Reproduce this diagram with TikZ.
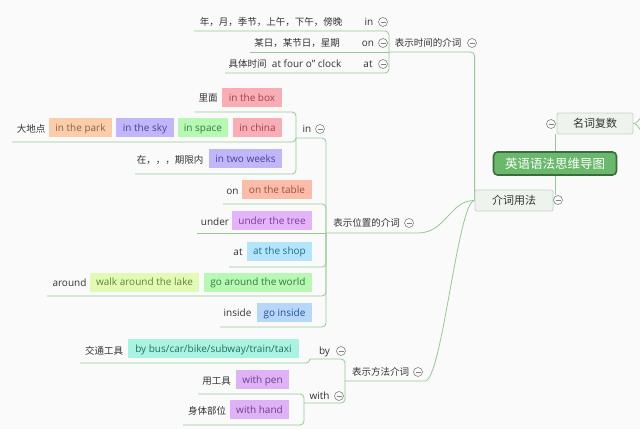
\documentclass[tikz,border=0pt]{standalone}
\usepackage{fontspec}
\setmainfont{Open Sans}
\newfontfamily\cjk{Noto Sans CJK SC}
\usetikzlibrary{backgrounds}
\definecolor{bg}{RGB}{250,250,250}
\definecolor{lineg}{RGB}{150,200,150}
\definecolor{foldc}{RGB}{130,130,130}
\definecolor{txt}{RGB}{51,51,51}
\definecolor{topf}{RGB}{238,244,237}
\definecolor{topb}{RGB}{196,212,196}
\definecolor{cenf}{RGB}{106,184,108}
\definecolor{cenb}{RGB}{58,108,60}
\definecolor{cpink}{RGB}{249,174,182}
\definecolor{tpink}{RGB}{160,65,80}
\definecolor{cpeach}{RGB}{252,205,170}
\definecolor{tpeach}{RGB}{135,100,70}
\definecolor{clav}{RGB}{192,182,250}
\definecolor{tlav}{RGB}{75,65,155}
\definecolor{cgreen}{RGB}{182,248,180}
\definecolor{tgreen}{RGB}{50,125,60}
\definecolor{csalmon}{RGB}{251,188,170}
\definecolor{tsalmon}{RGB}{155,80,60}
\definecolor{cviolet}{RGB}{229,180,248}
\definecolor{tviolet}{RGB}{125,60,155}
\definecolor{csky}{RGB}{180,230,251}
\definecolor{tsky}{RGB}{40,105,145}
\definecolor{clime}{RGB}{227,250,182}
\definecolor{tlime}{RGB}{95,135,50}
\definecolor{cblue}{RGB}{182,215,250}
\definecolor{tblue}{RGB}{40,80,145}
\definecolor{caqua}{RGB}{170,243,224}
\definecolor{taqua}{RGB}{30,115,95}
\definecolor{cwith}{RGB}{222,178,245}
\definecolor{twith}{RGB}{115,60,145}
\newcommand\ulink[2]{\draw[elbow] (#1) -- (#1 -| #2) -- (#2);}
\begin{document}
\begin{tikzpicture}[x=1pt,y=-1pt,
 conn/.style={draw=lineg,line width=0.8pt},
 elbow/.style={conn,rounded corners=4pt},
 lbl/.style={inner sep=0pt,text=txt,text height=7.5pt,text depth=0.5pt,font=\fontsize{10}{12}\selectfont},
 zh/.style={inner sep=0pt,text=txt,font=\cjk\fontsize{9.5}{11}\selectfont},
 chip/.style 2 args={fill=#1,inner sep=0pt,minimum height=19pt,text height=7.5pt,text depth=0.5pt,text=#2,font=\fontsize{10}{12}\selectfont},
 fold/.style={circle,draw=foldc,fill=bg,line width=0.6pt,minimum size=9pt,inner sep=0pt,
   path picture={\draw[foldc,line width=0.6pt] ([xshift=2pt]path picture bounding box.west) -- ([xshift=-2pt]path picture bounding box.east);}},
 topic/.style={draw=topb,fill=topf,rounded corners=2pt,line width=0.8pt,inner sep=0pt,minimum height=21pt,text=txt,font=\cjk\fontsize{11}{13}\selectfont},
]
\useasboundingbox (0,0) rectangle (640,429);

% ---------- coordinates of underline ends ----------
\coordinate (tP) at (389,52);  \coordinate (tR) at (474,52);
\coordinate (t1L) at (194,31); \coordinate (t2L) at (250,52); \coordinate (t3L) at (225,73);
\coordinate (pP) at (326,233); \coordinate (pR) at (418,233);
\coordinate (inP) at (296,138);
\coordinate (in1L) at (195,112); \coordinate (in2L) at (12,142); \coordinate (in3L) at (135,174);
\coordinate (onL) at (223,204); \coordinate (underL) at (197,233); \coordinate (atL) at (229,267);
\coordinate (aroundL) at (47,296); \coordinate (insideL) at (220,327);
\coordinate (mP) at (345,381); \coordinate (mR) at (425,381);
\coordinate (byL) at (310,359); \coordinate (by1L) at (80,363);
\coordinate (withL) at (304,403); \coordinate (w1L) at (198,394); \coordinate (w2L) at (183,425);

% ---------- main topics ----------
\node[topic,minimum width=76pt] (mingci) at (595,123.5) {名词复数};
\node[topic,minimum width=78pt] (jieci) at (514,200.5) {介词用法};
\node[fold] (mfold) at (551,124) {};
\node[fold] (jfold) at (558,200) {};
\node[draw=cenb,fill=cenf,line width=1.6pt,rounded corners=4pt,minimum width=123pt,minimum height=23pt,inner sep=0pt,text=white,font=\cjk\fontsize{12.5}{14}\selectfont] (root) at (555,163.5) {英语语法思维导图};

% ---------- time branch ----------
\node[zh] (time) at (428,43) {表示时间的介词};
\node[fold] (timef) at (472,43) {};
\node[zh] (t1) at (271,22) {年，月，季节，上午，下午，傍晚};
\node[lbl] (tin) at (369,22) {in};
\node[fold] (tinf) at (383,22) {};
\node[zh] (t2) at (297,43) {某日，某节日，星期};
\node[lbl] (ton) at (368,43) {on};
\node[fold] (tonf) at (383,43) {};
\node[lbl] (t3) at (285,64) {{\cjk\fontsize{9.5}{11}\selectfont 具体时间}~ at four o” clock};
\node[lbl] (tat) at (368,64) {at};
\node[fold] (tatf) at (383,64) {};

% ---------- place branch ----------
\node[zh] (place) at (366.5,223) {表示位置的介词};
\node[fold] (placef) at (409,223) {};
\node[lbl] (pin) at (307,129) {in};
\node[fold] (pinf) at (320,129) {};
\node[zh] (limian) at (208,98) {里面};
\node[chip={cpink}{tpink},minimum width=60pt] (box) at (252,97.5) {in the box};
\node[zh] (dadi) at (31,129) {大地点};
\node[chip={cpeach}{tpeach},minimum width=63pt] (park) at (80.5,127.5) {in the park};
\node[chip={clav}{tlav},minimum width=58pt] (sky) at (145,127.5) {in the sky};
\node[chip={cgreen}{tgreen},minimum width=50pt] (space) at (203,127.5) {in space};
\node[chip={cpink}{tpink},minimum width=49pt] (china) at (257.5,127.5) {in china};
\node[zh] (qixian) at (170,160) {在，，，期限内};
\node[chip={clav}{tlav},minimum width=73pt] (weeks) at (245.5,158.5) {in two weeks};
\node[lbl] (pon) at (232.5,191) {on};
\node[chip={csalmon}{tsalmon},minimum width=70pt] (table) at (277,189.5) {on the table};
\node[lbl] (punder) at (215,222) {under};
\node[chip={cviolet}{tviolet},minimum width=80pt] (tree) at (272,220.5) {under the tree};
\node[lbl] (pat) at (238,252) {at};
\node[chip={csky}{tsky},minimum width=65pt] (shop) at (279.5,251) {at the shop};
\node[lbl] (paround) at (69.5,283) {around};
\node[chip={clime}{tlime},minimum width=109pt] (lake) at (144.5,282) {walk around the lake};
\node[chip={cgreen}{tgreen},minimum width=108pt] (world) at (258,282) {go around the world};
\node[lbl] (pinside) at (237.5,313) {inside};
\node[chip={cblue}{tblue},minimum width=55pt] (goin) at (284.5,312.5) {go inside};

% ---------- method branch ----------
\node[zh] (method) at (380.5,372) {表示方法介词};
\node[fold] (methodf) at (418,372) {};
\node[lbl] (mby) at (324.5,351) {by};
\node[fold] (mbyf) at (341,351) {};
\node[zh] (jiaotong) at (104,351) {交通工具};
\node[chip={caqua}{taqua},minimum width=171pt] (bus) at (213.5,348.5) {by bus/car/bike/subway/train/taxi};
\node[lbl] (mwith) at (319.5,396) {with};
\node[fold] (mwithf) at (339,396) {};
\node[zh] (gongju) at (216.5,381) {用工具};
\node[chip={cwith}{twith},minimum width=53pt] (pen) at (262.5,379.5) {with pen};
\node[zh] (shenti) at (207,411) {身体部位};
\node[chip={cwith}{twith},minimum width=59pt] (hand) at (259.5,409.5) {with hand};

% ---------- connectors (behind the nodes) ----------
\begin{scope}[on background layer]
\fill[bg] (0,0) rectangle (640,429);
\draw[conn] ([xshift=-1pt]mingci.south west) -- ([xshift=-1pt]mingci.south west |- jfold.north);
\draw[conn] (mingci.east) to[out=0,in=210] (642,117);
\draw[conn] (mingci.east) to[out=0,in=150] (642,131);
\draw[elbow] (jieci.west) -- (jieci.west |- tR) -- (tP);
\draw[conn] (jieci.west) .. controls (450,200) and (446,233) .. (pR) -- (pP);
\draw[conn] (jieci.west) .. controls (458,200) and (442,381) .. (mR) -- (mP);
% time
\ulink{t1L}{tP}
\draw[conn] (t2L) -- (tP);
\ulink{t3L}{tP}
% place
\ulink{inP}{pP}
\ulink{in1L}{inP}
\ulink{in2L}{inP}
\ulink{in3L}{inP}
\ulink{onL}{pP}
\draw[conn] (underL) -- (pP);
\ulink{atL}{pP}
\ulink{aroundL}{pP}
\ulink{insideL}{pP}
% method
\ulink{byL}{mP}
\ulink{by1L}{byL}
\ulink{withL}{mP}
\ulink{w1L}{withL}
\ulink{w2L}{withL}
\end{scope}
\end{tikzpicture}
\end{document}
